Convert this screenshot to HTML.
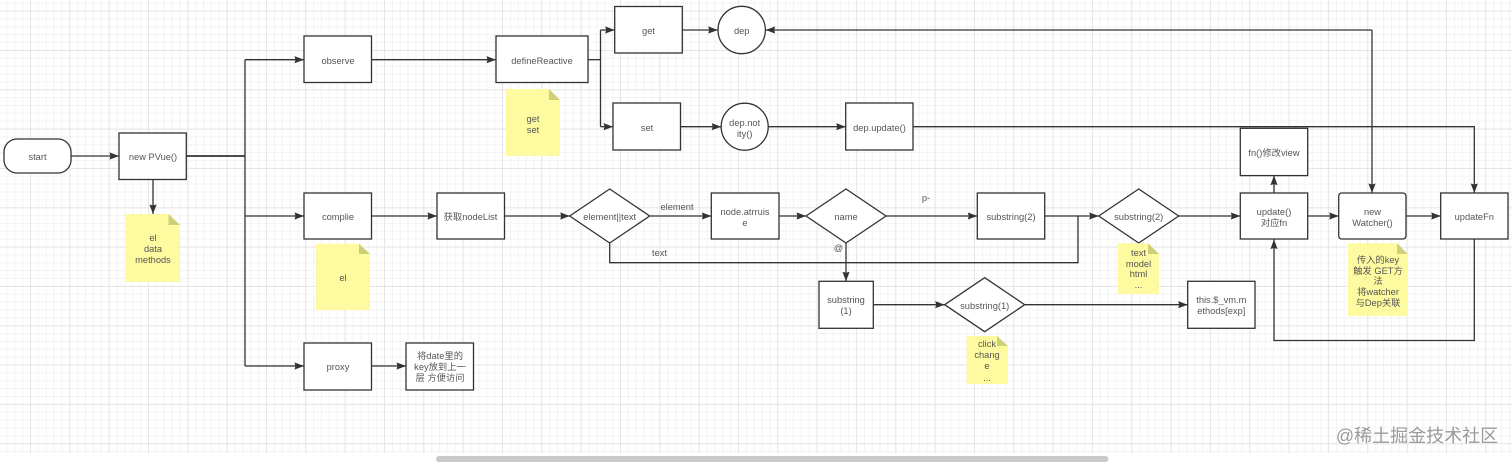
<!DOCTYPE html>
<html><head><meta charset="utf-8"><style>
html,body{margin:0;padding:0;background:#fff;width:1512px;height:462px;overflow:hidden}
svg{display:block;filter:blur(.35px)}
text{font-family:"Liberation Sans","Noto Sans CJK SC",sans-serif;font-size:9.3px;fill:#555;text-anchor:middle}
.b{fill:#fff;stroke:#333;stroke-width:1.3}
.l{fill:none;stroke:#333;stroke-width:1.3}
.n{fill:#fdfaa0}
.f{fill:#cfcf78}
</style></head><body>
<svg width="1512" height="462" viewBox="0 0 1512 462" xmlns="http://www.w3.org/2000/svg">
<defs>
<pattern id="mi" width="7.867" height="7.867" patternUnits="userSpaceOnUse" patternTransform="translate(-1.47 2.63)">
<path d="M.5 0V7.867M0 .5H7.867" fill="none" stroke="#f3f3f3" stroke-width="1"/>
</pattern>
<pattern id="ma" width="39.33" height="39.33" patternUnits="userSpaceOnUse" patternTransform="translate(-9.33 10.67)">
<path d="M.5 0V39.33M0 .5H39.33" fill="none" stroke="#e6e6e6" stroke-width="1"/>
</pattern>
<marker id="a" markerUnits="userSpaceOnUse" markerWidth="10" markerHeight="8" refX="9.5" refY="4" orient="auto"><path d="M0 .4L9.5 4L0 7.6L1 4Z" fill="#333"/></marker>
</defs>
<rect width="1512" height="453.5" fill="url(#mi)"/>
<rect width="1512" height="453.5" fill="url(#ma)"/>

<!-- connectors -->
<g class="l">
<path d="M71 156H119" marker-end="url(#a)"/>
<path d="M186 156H245" stroke-width="1.8"/>
<path d="M153 179V214" marker-end="url(#a)"/>
<path d="M245 59.7V366"/>
<path d="M245 59.7H304" marker-end="url(#a)"/>
<path d="M245 216H304" marker-end="url(#a)"/>
<path d="M245 366H304" marker-end="url(#a)"/>
<path d="M371.5 59.7H496" marker-end="url(#a)"/>
<path d="M371.5 216H437" marker-end="url(#a)"/>
<path d="M371.5 366H406" marker-end="url(#a)"/>
<path d="M588 59.7H600.5"/>
<path d="M600.5 30V126.7"/>
<path d="M600.5 30H614.7" marker-end="url(#a)"/>
<path d="M600.5 126.7H613" marker-end="url(#a)"/>
<path d="M682.3 30H717.7" marker-end="url(#a)"/>
<path d="M680.5 126.7H721.2" marker-end="url(#a)"/>
<path d="M768.2 126.7H845.7" marker-end="url(#a)"/>
<path d="M1372 30H765.7" marker-end="url(#a)"/>
<path d="M1372 30V193" marker-end="url(#a)"/>
<path d="M913 126.7H1474.3V193" marker-end="url(#a)"/>
<path d="M504 216H569.7" marker-end="url(#a)"/>
<path d="M649.7 216H711.3" marker-end="url(#a)"/>
<path d="M779 216H806" marker-end="url(#a)"/>
<path d="M886 216H977.3" marker-end="url(#a)"/>
<path d="M1044.7 216H1098.7" marker-end="url(#a)"/>
<path d="M609.7 243V262.7H1078V216"/>
<path d="M846 243V281.3" marker-end="url(#a)"/>
<path d="M1178.7 216H1240.3" marker-end="url(#a)"/>
<path d="M1274 193V175.6" marker-end="url(#a)"/>
<path d="M1307.7 216H1338.7" marker-end="url(#a)"/>
<path d="M1406 216H1440.7" marker-end="url(#a)"/>
<path d="M1474.3 239V340.5H1274V239.5" marker-end="url(#a)"/>
<path d="M873.3 304.7H944.7" marker-end="url(#a)"/>
<path d="M1024.7 304.7H1187.7" marker-end="url(#a)"/>
</g>

<!-- nodes -->
<rect class="b" x="4" y="139" width="67" height="34" rx="13"/>
<rect class="b" x="119" y="133" width="67.3" height="46.5"/>
<rect class="b" x="304" y="36" width="67.5" height="46.5"/>
<rect class="b" x="304" y="193" width="67.5" height="46"/>
<rect class="b" x="304" y="343" width="67.5" height="47"/>
<rect class="b" x="437" y="193" width="67.5" height="46"/>
<rect class="b" x="406" y="343" width="67.5" height="47"/>
<rect class="b" x="496" y="36" width="92" height="46.5"/>
<rect class="b" x="614.7" y="6.5" width="67.6" height="46.5"/>
<circle class="b" cx="741.7" cy="30" r="23.7"/>
<rect class="b" x="613" y="103" width="67.5" height="47"/>
<circle class="b" cx="744.7" cy="126.7" r="23.5"/>
<rect class="b" x="845.7" y="103" width="67.3" height="47"/>
<path class="b" d="M569.7 216L609.7 189L649.7 216L609.7 243Z"/>
<rect class="b" x="711.3" y="193" width="67.7" height="46"/>
<path class="b" d="M806 216L846 189L886 216L846 243Z"/>
<rect class="b" x="977.3" y="193" width="67.4" height="46"/>
<path class="b" d="M1098.7 216L1138.7 189L1178.7 216L1138.7 243Z"/>
<rect class="b" x="1240.3" y="193" width="67.4" height="46"/>
<rect class="b" x="1240.3" y="128.3" width="67.4" height="47.3"/>
<rect class="b" x="1338.7" y="193" width="67.3" height="46" rx="3"/>
<rect class="b" x="1440.7" y="193" width="67.3" height="46"/>
<rect class="b" x="819" y="281.3" width="54.3" height="47"/>
<path class="b" d="M944.7 304.7L984.7 277.7L1024.7 304.7L984.7 331.7Z"/>
<rect class="b" x="1187.7" y="281.3" width="67.3" height="47"/>

<!-- notes -->
<path class="n" d="M126 214H169L180 225V282H126Z"/><path class="f" d="M168.5 214L180 225H168.5Z"/>
<path class="n" d="M316 243.7H359L370 254V310H316Z"/><path class="f" d="M359 243.7L370 254H359Z"/>
<path class="n" d="M506 89H549L560 100V156H506Z"/><path class="f" d="M549 89L560 100H549Z"/>
<path class="n" d="M1118 243.3H1148L1159 254V294H1118Z"/><path class="f" d="M1148 243.3L1159 254H1148Z"/>
<path class="n" d="M966.7 336H997L1008 346V384H966.7Z"/><path class="f" d="M997 336L1008 346H997Z"/>
<path class="n" d="M1348 243.3H1397L1407.7 254V316H1348Z"/><path class="f" d="M1397 243.3L1407.7 254H1397Z"/>

<!-- labels -->
<text x="37.5" y="160">start</text>
<text x="153" y="160">new PVue()</text>
<text x="338" y="64">observe</text>
<text x="338" y="220">complie</text>
<text x="338" y="370">proxy</text>
<text x="470.5" y="220">获取nodeList</text>
<text x="440" y="359">将date里的</text>
<text x="440" y="370">key放到上一</text>
<text x="440" y="381">层 方便访问</text>
<text x="542" y="64">defineReactive</text>
<text x="648.5" y="34">get</text>
<text x="741.7" y="34">dep</text>
<text x="647" y="131">set</text>
<text x="744.7" y="126">dep.not</text>
<text x="744.7" y="137">ity()</text>
<text x="879.5" y="131">dep.update()</text>
<text x="609.7" y="220">element||text</text>
<text x="677" y="210">element</text>
<text x="745" y="215">node.atrruis</text>
<text x="745" y="226">e</text>
<text x="846" y="220">name</text>
<text x="926" y="201">p-</text>
<text x="1011" y="220">substring(2)</text>
<text x="1138.7" y="220">substring(2)</text>
<text x="1274" y="215">update()</text>
<text x="1274" y="226">对应fn</text>
<text x="1274" y="156">fn()修改view</text>
<text x="1372.5" y="215">new</text>
<text x="1372.5" y="226">Watcher()</text>
<text x="1474.3" y="220">updateFn</text>
<text x="659.5" y="256">text</text>
<text x="838.5" y="251">@</text>
<text x="846" y="303">substring</text>
<text x="846" y="314">(1)</text>
<text x="984.7" y="309">substring(1)</text>
<text x="1221.3" y="303">this.$_vm.m</text>
<text x="1221.3" y="314">ethods[exp]</text>
<text x="153" y="241">el</text>
<text x="153" y="252">data</text>
<text x="153" y="263">methods</text>
<text x="343" y="281">el</text>
<text x="533" y="122">get</text>
<text x="533" y="133">set</text>
<text x="1138.5" y="256">text</text>
<text x="1138.5" y="267">model</text>
<text x="1138.5" y="277">html</text>
<text x="1138.5" y="288">...</text>
<text x="987" y="347">click</text>
<text x="987" y="358">chang</text>
<text x="987" y="369">e</text>
<text x="987" y="381">...</text>
<text x="1378" y="263">传入的key</text>
<text x="1378" y="274">触发 GET方</text>
<text x="1378" y="284">法</text>
<text x="1378" y="295">将watcher</text>
<text x="1378" y="306">与Dep关联</text>

<!-- watermark -->
<text x="1417" y="442" style="font-size:18px;fill:#9a9a9a;stroke:#fff;stroke-width:.3px;paint-order:stroke">@稀土掘金技术社区</text>

<!-- scrollbar -->
<rect x="436" y="456" width="672.500" height="6" rx="3" fill="#c9c9c9"/>
</svg>
</body></html>
